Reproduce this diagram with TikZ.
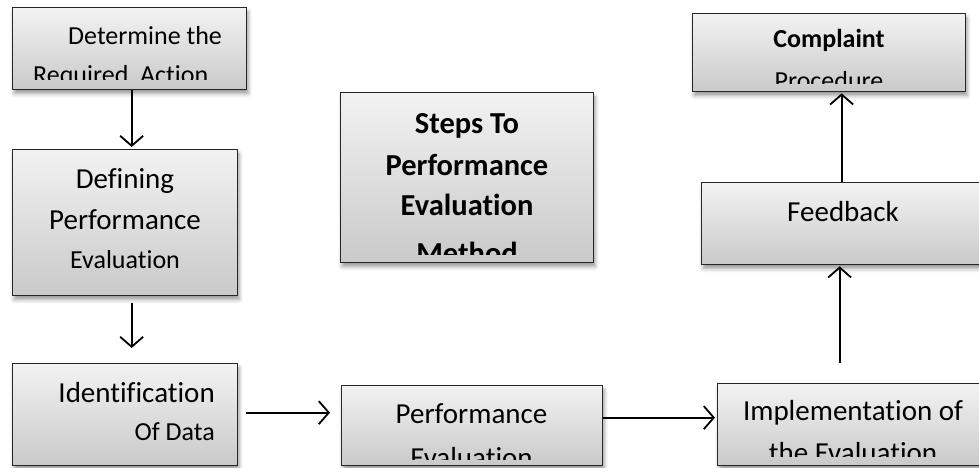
\documentclass[tikz,border=0pt]{standalone}
\usepackage{fontspec}
\setmainfont{Carlito}[Ligatures={NoCommon,NoRequired,NoContextual}]
\usetikzlibrary{arrows.meta,shadows.blur}
\begin{document}
\begin{tikzpicture}[x=1pt,y=-1pt,
  stepbox/.style={draw=black!85,line width=1.3pt,inner sep=0pt,
    top color=gray!10,bottom color=gray!42,
    blur shadow={shadow xshift=1.5pt,shadow yshift=-4pt,shadow blur radius=4pt,shadow opacity=40}},
  flow/.style={line width=1.8pt,-{Straight Barb[length=10pt,width=23pt,line width=1.8pt]}},
  lbl/.style={inner sep=0pt},
  fs/.style={font=\fontsize{#1}{#1}\selectfont},
  fb/.style={font=\fontsize{#1}{#1}\selectfont\bfseries}]
\useasboundingbox (0,0) rectangle (979,468);

% boxes
\node[stepbox,anchor=north west,minimum width=234pt,minimum height=82pt]  (det)   at (12,7)    {};
\node[stepbox,anchor=north west,minimum width=225pt,minimum height=146pt] (def)   at (12,149)  {};
\node[stepbox,anchor=north west,minimum width=225pt,minimum height=102pt] (ident) at (12,363)  {};
\node[stepbox,anchor=north west,minimum width=261pt,minimum height=80pt]  (perf)  at (341,385) {};
\node[stepbox,anchor=north west,minimum width=253pt,minimum height=170pt] (steps) at (340,92)  {};
\node[stepbox,anchor=north west,minimum width=273pt,minimum height=78pt]  (compl) at (692,13)  {};
\node[stepbox,anchor=north west,minimum width=290pt,minimum height=82pt]  (feed)  at (701,182) {};
\node[stepbox,anchor=north west,minimum width=275pt,minimum height=82pt]  (impl)  at (717,383) {};

% box texts (overflowing lines are cut at the inner bottom edge)
\begin{scope}
  \clip (det.north west) rectangle ([yshift=11pt]det.south east);
  \node[lbl,fs=26,anchor=base west] (detA) at (68,45) {Determine the};
  \node[lbl,fs=26,anchor=base west] (detB) at (33,84) {Required\ \ Action};
\end{scope}

\node[lbl,fs=29,anchor=base] (defA) at (125,188) {Defining};
\node[lbl,fs=29,anchor=base] (defB) at (125,229) {Performance};
\node[lbl,fs=26,anchor=base] (defC) at (125,268) {Evaluation};

\node[lbl,fs=29,anchor=base east] (idA) at (215,402) {Identification};
\node[lbl,fs=26,anchor=base east] (idB) at (215,440) {Of Data};

\begin{scope}
  \clip (perf.north west) rectangle ([yshift=7pt]perf.south east);
  \node[lbl,fs=29,anchor=base] (pfA) at (471.5,423) {Performance};
  \node[lbl,fs=29,anchor=base] (pfB) at (471.5,467) {Evaluation};
\end{scope}

\begin{scope}
  \clip (steps.north west) rectangle ([yshift=9pt]steps.south east);
  \node[lbl,fb=30.5,anchor=base] (stA) at (467,133) {Steps To};
  \node[lbl,fb=30.5,anchor=base] (stB) at (467,175) {Performance};
  \node[lbl,fb=30.5,anchor=base] (stC) at (467,215) {Evaluation};
  \node[lbl,fb=30.5,anchor=base] (stD) at (467,263) {Method};
\end{scope}

\begin{scope}
  \clip (compl.north west) rectangle ([yshift=9pt]compl.south east);
  \node[lbl,fb=26,anchor=base] (cpA) at (829,48) {Complaint};
  \node[lbl,fs=26,anchor=base] (cpB) at (829,90) {Procedure};
\end{scope}

\node[lbl,fs=29,anchor=base] (fbA) at (843,221) {Feedback};

\begin{scope}
  \clip (impl.north west) rectangle ([yshift=10pt]impl.south east);
  \node[lbl,fs=29,anchor=base] (imA) at (853,420) {Implementation of};
  \node[lbl,fs=29,anchor=base] (imB) at (853,462) {the Evaluation};
\end{scope}

% connectors
\draw[flow,shorten >=2pt] ([xshift=2pt]det.south) -- ([xshift=6.5pt]def.north);
\draw[flow,shorten <=7pt,shorten >=15pt] ([xshift=6.5pt]def.south) -- ([xshift=6.5pt]ident.north);
\draw[flow,shorten <=8pt,shorten >=11pt] ([yshift=2pt]ident.east) -- ([yshift=13pt]perf.west);
\draw[flow,shorten >=2pt] ([yshift=8pt]perf.east) -- ([yshift=7pt]impl.west);
\draw[flow,shorten <=20pt,shorten >=1pt] ([xshift=-15.5pt]impl.north) -- ([xshift=-7pt]feed.south);
\draw[flow,shorten >=1pt] ([xshift=-5pt]feed.north) -- ([xshift=12.5pt]compl.south);
\end{tikzpicture}
\end{document}
